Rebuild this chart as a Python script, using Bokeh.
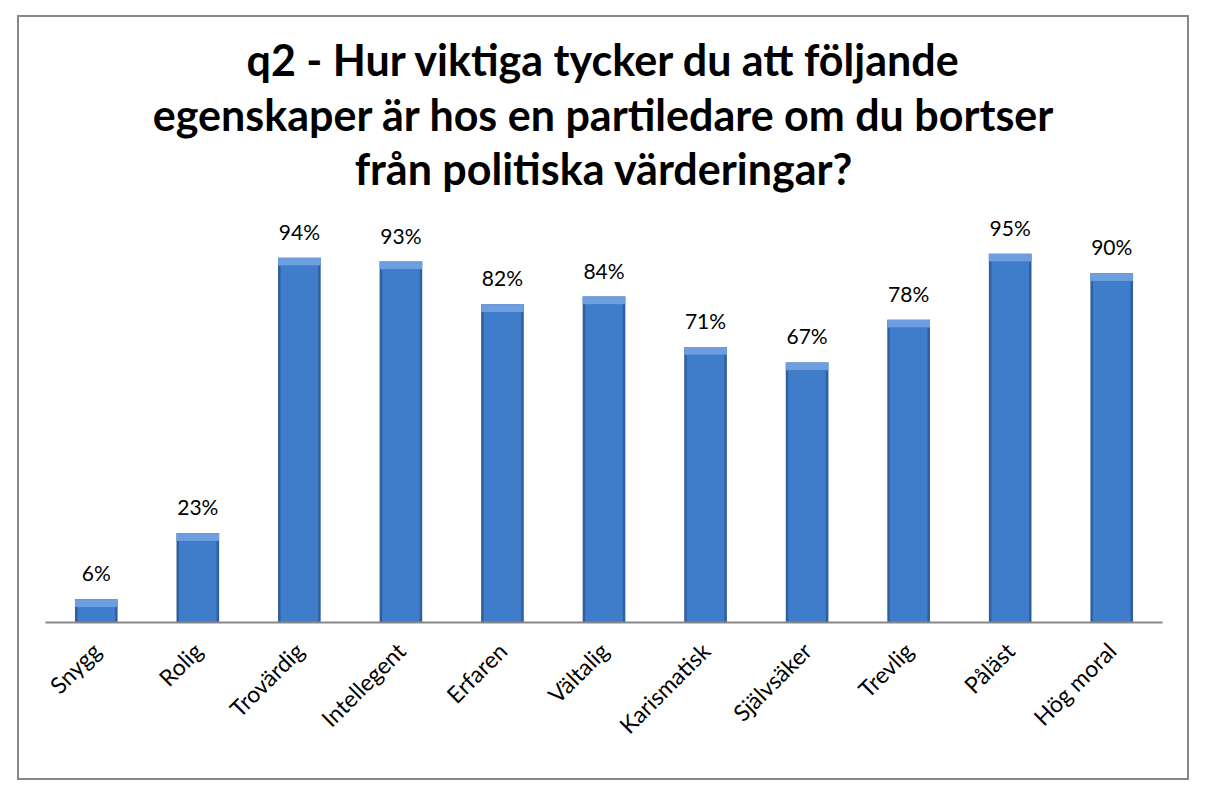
import math
from bokeh.plotting import figure
from bokeh.models import ColumnDataSource, LabelSet, Title, FactorRange, Range1d, Spacer
from bokeh.layouts import column, row
from bokeh.core.properties import value
from bokeh.embed import file_html
from bokeh.resources import INLINE

categories = ["Snygg", "Rolig", "Trovärdig", "Intellegent", "Erfaren", "Vältalig",
              "Karismatisk", "Självsäker", "Trevlig", "Påläst", "Hög moral"]
values = [6, 23, 94, 93, 82, 84, 71, 67, 78, 95, 90]
labels = [f"{v}%" for v in values]
title_lines = ["q2 - Hur viktiga tycker du att följande",
               "egenskaper är hos en partiledare om du bortser",
               "från politiska värderingar?"]

src = ColumnDataSource(dict(cat=categories, val=values, lab=labels,
                            bevel=[v - 2 for v in values]))

p = figure(width=1172, height=765, x_range=FactorRange(*categories, range_padding=0),
           y_range=Range1d(0, 109), output_backend="svg", toolbar_location=None,
           min_border_left=26, min_border_right=29, min_border_bottom=160, min_border_top=182)
p.styles = {"border": "2px solid #878787", "box-sizing": "border-box"}

font = "Lato"
p.title.text = ""
p.add_layout(Title(text="\n".join(title_lines), align="center", text_align="center",
                   text_font=font, text_font_size="43px", text_line_height=1.07,
                   text_font_style="bold", text_color="black"), "above")

# bars with a simple bevel look
p.vbar(x="cat", top="val", width=0.42, source=src, fill_color="#2F5F9F", line_color=None)
p.vbar(x="cat", top="bevel", bottom=0, width=0.37, source=src, fill_color="#3F7DCB", line_color=None)
p.vbar(x="cat", top="val", bottom="bevel", width=0.42, source=src, fill_color="#6C9EE0", line_color=None)

ls = LabelSet(x="cat", y="val", text="lab", source=src, text_align="center",
              text_baseline="bottom", y_offset=14, text_font=value(font), text_font_size=value("21px"),
              text_color="black")
p.add_layout(ls)

p.yaxis.visible = False
p.xgrid.visible = False
p.ygrid.visible = False
p.outline_line_color = None
p.xaxis.axis_line_color = "#878787"
p.xaxis.axis_line_width = 2
p.xaxis.major_tick_line_color = None
p.xaxis.minor_tick_line_color = None
p.xaxis.major_label_orientation = math.pi / 4
p.xaxis.major_label_standoff = 18
p.xaxis.major_label_text_font = font
p.xaxis.major_label_text_font_size = "23px"
p.xaxis.major_label_text_color = "black"
p.background_fill_color = "white"
p.border_fill_color = "white"

layout = column(Spacer(height=15), row(Spacer(width=17), p))
open("out.html", "w").write(file_html(layout, INLINE))
